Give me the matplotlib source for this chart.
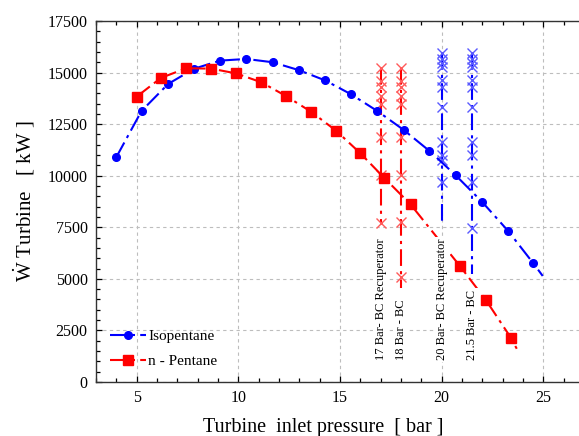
import matplotlib
matplotlib.use("Agg")
import matplotlib.pyplot as plt
from matplotlib.ticker import MultipleLocator

plt.rcParams['font.family'] = ['Liberation Serif', 'DejaVu Serif']
plt.rcParams['mathtext.fontset'] = 'custom'
plt.rcParams['mathtext.rm'] = 'Liberation Serif'
plt.rcParams['mathtext.it'] = 'Liberation Serif:italic'

# ---- data ----
iso_p = [4.0, 5.24, 6.55, 7.83, 9.11, 10.39, 11.69, 12.97, 14.27, 15.52, 16.83,
         18.13, 19.40, 20.69, 21.99, 23.27, 24.51, 24.97]
iso_w = [10900, 13140, 14450, 15190, 15580, 15660, 15500, 15120, 14620, 13960, 13140,
         12220, 11200, 10020, 8730, 7320, 5750, 5140]

pen_p = [5.0, 6.19, 7.44, 8.67, 9.89, 11.13, 12.35, 13.58, 14.81, 16.0, 17.16,
         18.47, 20.9, 22.17, 23.4, 23.77]
pen_w = [13830, 14740, 15210, 15190, 14960, 14530, 13860, 13100, 12180, 11090, 9910,
         8610, 5620, 3980, 2150, 1470]

bc17_p = 17.0
bc17_w = [15220, 14590, 14300, 13860, 13470, 11880, 10030, 7700]
bc18_p = 18.0
bc18_w = [15220, 14590, 14300, 13860, 13470, 11880, 10030, 7760, 5090, 4560]
bc20_p = 20.0
bc20_w = [15950, 15660, 15460, 15270, 14640, 14300, 13330, 11630, 11000, 10760, 9700, 7710]
bc215_p = 21.5
bc215_w = [15950, 15660, 15460, 15270, 14640, 14300, 13330, 11630, 11000, 9700, 7460, 5240]

labels = ["17 Bar- BC Recuperator", "18 Bar - BC", "20 Bar- BC Recuperator", "21.5 Bar - BC"]
label_p = [17.0, 18.0, 20.0, 21.5]
label_w = 1050

x_ticks = [5, 10, 15, 20, 25]
y_ticks = [0, 2500, 5000, 7500, 10000, 12500, 15000, 17500]

BLUE = '#0000ff'
RED = '#ff0000'
DASH = (0, (8, 2.5, 1.5, 2.5))

fig = plt.figure(figsize=(5.79, 4.36), dpi=100)
ax = fig.add_axes([96/579, 54/436, (584-96)/579, 361/436])

ax.set_xlim(3, 27)
ax.set_ylim(0, 17500)
ax.set_xticks(x_ticks)
ax.set_yticks(y_ticks)
ax.xaxis.set_minor_locator(MultipleLocator(1))
ax.yaxis.set_minor_locator(MultipleLocator(500))
ax.tick_params(which='both', direction='in', top=True, right=False, labelsize=11.5, width=0.9)
ax.tick_params(which='major', length=4, pad=6)
ax.tick_params(which='minor', length=3)
ax.grid(True, which='major', color='#bdbdbd', linestyle=(0, (3, 3)), linewidth=0.8)
ax.set_axisbelow(True)
for s in ['left', 'bottom', 'top']:
    ax.spines[s].set_linewidth(1.0)
    ax.spines[s].set_color('#333333')

# vertical BC lines
def vline(p, w, color, mcolor, skip_last):
    xs = [p] * len(w)
    ax.plot(xs, w, linestyle=DASH, color=color, lw=1.5, zorder=3)
    idx = list(range(len(w) - 1)) if skip_last else list(range(len(w)))
    ax.plot([xs[i] for i in idx], [w[i] for i in idx], linestyle='none', marker='x',
            ms=6.5, mew=1.0, color=mcolor, zorder=3)

vline(bc17_p, bc17_w, RED, '#ff5a5a', False)
vline(bc18_p, bc18_w, RED, '#ff5a5a', True)
vline(bc20_p, bc20_w, BLUE, '#5a5aff', True)
vline(bc215_p, bc215_w, BLUE, '#5a5aff', True)

ax.plot(iso_p, iso_w, linestyle=DASH, color=BLUE, lw=1.5, marker='o', ms=5.5,
        markevery=list(range(len(iso_p) - 1)), label='Isopentane', zorder=4)
ax.plot(pen_p, pen_w, linestyle=DASH, color=RED, lw=1.5, marker='s', ms=7.5,
        markevery=list(range(len(pen_p) - 1)), label='n - Pentane', zorder=4)

for t, p in zip(labels, label_p):
    ax.text(p, label_w, t, rotation=90, ha='center', va='bottom', fontsize=9,
            zorder=5, bbox=dict(facecolor='white', edgecolor='none', pad=1.5))

leg = ax.legend(loc='lower left', bbox_to_anchor=(0.0, 0.0), frameon=False, fontsize=11,
                handlelength=2.4, handletextpad=0.1, labelspacing=0.75, borderpad=0.4)

fig.text(323/579, 4/436, 'Turbine  inlet pressure  [ bar ]', fontsize=14.5,
         ha='center', va='baseline')
ax.set_ylabel(r'$\dot{\mathrm{W}}$ Turbine   [ kW ]', fontsize=15, labelpad=8)

fig.savefig('out.png', dpi=100)
